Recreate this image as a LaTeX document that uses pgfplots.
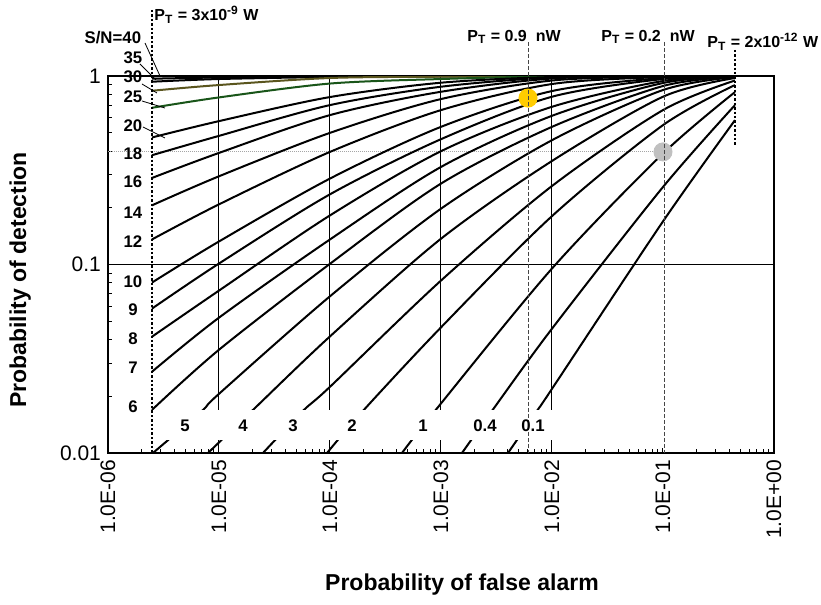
\documentclass[border=0pt]{standalone}
\usepackage{fontspec}
\setmainfont{Liberation Sans}
\usepackage{pgfplots}
\pgfplotsset{compat=1.18}

\definecolor{olivecurve}{RGB}{90,85,30}
\definecolor{greencurve}{RGB}{25,85,25}
\definecolor{dotgold}{RGB}{255,204,0}
\definecolor{dotgrey}{RGB}{192,192,192}
\definecolor{dashgrey}{RGB}{70,70,70}

\newcommand{\lbl}{\fontsize{8.4}{9}\selectfont\bfseries}
\newcommand{\ptlbl}{\fontsize{8}{9}\selectfont\bfseries}

\begin{document}
\begin{tikzpicture}
\path[use as bounding box] (-54pt,-76pt) rectangle (356.5pt,226.5pt);
\begin{axis}[
  at={(0,0)}, anchor=south west,
  scale only axis, width=333pt, height=188.5pt,
  xmode=log, ymode=log,
  xmin=1e-6, xmax=1, ymin=0.01, ymax=1,
  xtick={1e-6,1e-5,1e-4,1e-3,1e-2,1e-1,1},
  xticklabels={1.0E-06,1.0E-05,1.0E-04,1.0E-03,1.0E-02,1.0E-01,1.0E+00},
  minor xtick={2e-6,3e-6,4e-6,5e-6,6e-6,7e-6,8e-6,9e-6,
               2e-5,3e-5,4e-5,5e-5,6e-5,7e-5,8e-5,9e-5,
               2e-4,3e-4,4e-4,5e-4,6e-4,7e-4,8e-4,9e-4,
               2e-3,3e-3,4e-3,5e-3,6e-3,7e-3,8e-3,9e-3,
               2e-2,3e-2,4e-2,5e-2,6e-2,7e-2,8e-2,9e-2,
               0.2,0.3,0.4,0.5,0.6,0.7,0.8,0.9},
  ytick={0.01,0.1,1}, yticklabels={0.01,0.1,1},
  minor ytick={0.02,0.03,0.04,0.05,0.06,0.07,0.08,0.09,
               0.2,0.3,0.4,0.5,0.6,0.7,0.8,0.9},
  xtick pos=bottom, ytick pos=left, tick align=inside,
  major tick length=2.5pt, minor tick length=2.25pt,
  tick style={black, line width=0.5pt},
  axis line style={line width=0.6pt},
  xticklabel style={rotate=90, anchor=east, font=\fontsize{10.5}{12}\selectfont},
  yticklabel style={font=\fontsize{10.5}{12}\selectfont},
  xlabel={Probability of false alarm},
  ylabel={Probability of detection},
  xlabel style={at={(axis description cs:0.5315,-0.350)}, anchor=center, font=\fontsize{11.5}{13}\selectfont\bfseries},
  ylabel style={at={(axis description cs:-0.132,0.459)}, anchor=center, font=\fontsize{11.5}{13}\selectfont\bfseries},
  every axis plot/.append style={line width=1pt, smooth},
]
% grid lines
\draw[line width=0.5pt] (axis cs:1e-6,0.1) -- (axis cs:1,0.1);
\draw[line width=0.5pt] (axis cs:1e-5,0.01) -- (axis cs:1e-5,1);
\draw[line width=0.5pt] (axis cs:1e-4,0.01) -- (axis cs:1e-4,1);
\draw[line width=0.5pt] (axis cs:1e-3,0.01) -- (axis cs:1e-3,1);
\draw[line width=0.5pt] (axis cs:1e-2,0.01) -- (axis cs:1e-2,1);
\draw[line width=0.5pt, gray!70, dash pattern=on 0.5pt off 0.5pt] (axis cs:1e-6,0.3957) -- (axis cs:0.1,0.3957);

% S/N curves
\addplot[black] coordinates {(2.49e-6,0.997) (1e-4,0.999) (0.4454,0.999)};
\addplot[black] coordinates {(2.49e-6,0.9674) (1e-5,0.9818) (1e-4,0.9939) (1e-3,0.998) (0.4454,0.999)};
\addplot[black] coordinates {(2.49e-6,0.9326) (1e-5,0.9638) (1e-4,0.9878) (1e-3,0.9963) (1e-2,0.9985) (0.4454,0.999)};
\addplot[olivecurve] coordinates {(2.49e-6,0.8352) (1e-5,0.8956) (1e-4,0.9758) (1e-3,0.9915) (1e-2,0.9976) (0.4454,0.999)};
\addplot[greencurve] coordinates {(2.49e-6,0.6782) (1e-5,0.7700) (1e-4,0.912) (1e-3,0.9638) (1e-2,0.9939) (0.4454,0.999)};
\addplot[black] coordinates {(2.49e-6,0.4719) (1e-5,0.5763) (1e-4,0.7734) (1e-3,0.9213) (1e-2,0.9878) (0.1,0.9988) (0.4454,0.999)};
\addplot[black] coordinates {(2.49e-6,0.3800) (1e-5,0.4813) (1e-4,0.7010) (1e-3,0.8772) (1e-2,0.9818) (0.1,0.9976) (0.4454,0.999)};
\addplot[black] coordinates {(2.49e-6,0.2878) (1e-5,0.3909) (1e-4,0.6203) (1e-3,0.8249) (1e-2,0.9698) (0.1,0.9963) (0.4454,0.999)};
\addplot[black] coordinates {(2.49e-6,0.2060) (1e-5,0.2938) (1e-4,0.4993) (1e-3,0.7546) (1e-2,0.9464) (0.1,0.9939) (0.4454,0.999)};
\addplot[black] coordinates {(2.49e-6,0.1358) (1e-5,0.2085) (1e-4,0.3957) (1e-3,0.6594) (1e-2,0.9067) (0.1,0.9878) (0.4454,0.999)};
\addplot[black] coordinates {(2.49e-6,0.08019) (1e-5,0.1325) (1e-4,0.2857) (1e-3,0.5374) (1e-2,0.8321) (0.1,0.9758) (0.4454,0.999)};
\addplot[black] coordinates {(2.49e-6,0.05834) (1e-5,0.1012) (1e-4,0.2357) (1e-3,0.4622) (1e-2,0.7763) (0.1,0.9638) (0.4454,0.9988)};
\addplot[black] coordinates {(2.49e-6,0.04140) (1e-5,0.07273) (1e-4,0.1822) (1e-3,0.3991) (1e-2,0.6865) (0.1,0.9406) (0.4454,0.9976)};
\addplot[black] coordinates {(2.49e-6,0.02698) (1e-5,0.05224) (1e-4,0.1358) (1e-3,0.3293) (1e-2,0.6150) (0.1,0.9179) (0.4454,0.9963)};
\addplot[black] coordinates {(2.49e-6,0.01693) (1e-5,0.03530) (1e-4,0.1009) (1e-3,0.2687) (1e-2,0.5374) (0.1,0.8847) (0.4454,0.9939)};
\addplot[black] coordinates {(2.54e-6,0.01) (7.03e-6,0.01673) (1e-5,0.0206) (1e-4,0.06783) (1e-3,0.1978) (1e-2,0.4566) (0.1,0.8426) (0.4454,0.9878)};
\addplot[black] coordinates {(7.96e-6,0.01) (1.983e-5,0.01673) (1e-4,0.04155) (1e-3,0.1370) (1e-2,0.3542) (0.1,0.7763) (0.4454,0.9758)};
\addplot[black] coordinates {(2.49e-5,0.01) (5.71e-5,0.01673) (1e-4,0.02245) (1e-3,0.08219) (1e-2,0.2609) (0.1,0.6594) (0.4454,0.9464)};
\addplot[black] coordinates {(9.40e-5,0.01) (1.983e-4,0.01673) (1e-3,0.04639) (1e-2,0.1806) (0.1,0.5487) (0.4454,0.8956)};
\addplot[black] coordinates {(4.45e-4,0.01) (8.83e-4,0.01673) (1e-2,0.09521) (0.1,0.3880) (0.4454,0.8221)};
\addplot[black] coordinates {(1.546e-3,0.01) (2.88e-3,0.01673) (1e-2,0.04566) (0.1,0.2577) (0.4454,0.7010)};
\addplot[black] coordinates {(4.015e-3,0.01) (7.33e-3,0.01673) (1e-2,0.0219) (0.1,0.1693) (0.4454,0.5834)};

% operating points
\addplot[only marks, mark=*, mark size=4.25pt, dotgold, mark options={draw=dotgold, fill=dotgold}] coordinates {(6.08e-3,0.764)};
\addplot[only marks, mark=*, mark size=4.25pt, dotgrey, mark options={draw=dotgrey, fill=dotgrey}] coordinates {(0.1,0.3957)};
\end{axis}

% overlay in reference pixel coordinates
\begin{scope}[x=0.5pt, y=-0.5pt, shift={(-54pt,226.5pt)}]
  % white band for the lower S/N labels
  \fill[white] (153.5,410) rectangle (560,440);
  % power lines
  \draw[dashgrey, line width=0.5pt, dash pattern=on 2pt off 1pt] (528,42) -- (528,453);
  \draw[dashgrey, line width=0.5pt, dash pattern=on 2pt off 1pt] (664,42) -- (664,453);
  \draw[black, line width=1.35pt, dash pattern=on 1.2pt off 1pt] (152,10) -- (152,453);
  \draw[black, line width=1.35pt, dash pattern=on 1.2pt off 1pt] (735,50) -- (735,146);

  \node[anchor=west, inner sep=0pt] at (154,15) {\ptlbl P\textsubscript{T} = 3x10\textsuperscript{-9} W};
  \node[anchor=west, inner sep=0pt] at (467,37) {\ptlbl P\textsubscript{T} = 0.9\ \ nW};
  \node[anchor=west, inner sep=0pt] at (601,37) {\ptlbl P\textsubscript{T} = 0.2\ \ nW};
  \node[anchor=west, inner sep=0pt] at (707,42) {\ptlbl P\textsubscript{T} = 2x10\textsuperscript{-12} W};

  % S/N labels at the left
  \node[anchor=east, inner sep=0pt] at (141.5,38) {\lbl S/N=40};
  \foreach \v/\yy in {35/58, 30/77, 25/97, 20/126, 18/154, 16/182, 14/213, 12/242, 10/282, 9/310, 8/339, 7/368, 6/407} {
    \node[inner sep=0pt] at (133,\yy) {\lbl \v};
  }
  \draw[line width=0.4pt] (145,43) -- (160,76);
  \draw[line width=0.4pt] (140,64) -- (156,80);
  \draw[line width=0.4pt] (142,84) -- (157,93);
  \draw[line width=0.4pt] (142,101) -- (165,108);
  \draw[line width=0.4pt] (143,127) -- (165,138);

  % S/N labels at the bottom
  \foreach \v/\xx in {5/185, 4/243, 3/293, 2/352, 1/423, 0.4/485, 0.1/533} {
    \node[inner sep=0pt] at (\xx,426) {\lbl \v};
  }
\end{scope}
\end{tikzpicture}
\end{document}
